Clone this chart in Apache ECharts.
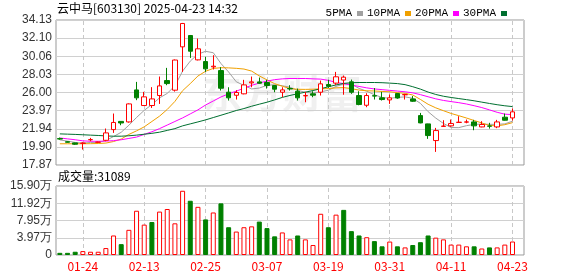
<!DOCTYPE html>
<html><head><meta charset="utf-8">
<script src="https://cdn.jsdelivr.net/npm/echarts/dist/echarts.min.js"></script>
<style>html,body{margin:0;padding:0;background:#fff}#c{width:578px;height:276px}</style>
</head><body><div id="c"></div>
<script>
const dates = ['01-21','01-22','01-23','01-24','01-27','02-05','02-06','02-07','02-10','02-11',
'02-12','02-13','02-14','02-17','02-18','02-19','02-20','02-21','02-24','02-25',
'02-26','02-27','02-28','03-03','03-04','03-05','03-06','03-07','03-10','03-11',
'03-12','03-13','03-14','03-17','03-18','03-19','03-20','03-21','03-24','03-25',
'03-26','03-27','03-28','03-31','04-01','04-02','04-03','04-07','04-08','04-09',
'04-10','04-11','04-14','04-15','04-16','04-17','04-18','04-21','04-22','04-23'];
const opens = [20.83,20.48,20.35,20.30,20.70,20.42,20.64,21.84,22.76,22.70,
26.29,24.54,24.54,25.66,27.34,26.26,31.12,32.39,29.66,29.47,
28.87,28.46,26.03,25.69,25.85,27.08,27.19,27.12,26.78,26.03,
26.45,26.14,25.62,25.85,26.03,26.89,27.05,27.40,27.20,25.66,
24.57,25.64,25.40,25.17,25.88,25.74,25.28,23.41,22.48,20.61,
22.20,22.26,22.64,22.68,22.70,22.14,22.24,22.14,23.23,23.15];
const closes = [20.78,20.42,20.20,20.33,20.72,20.44,21.47,22.64,22.58,24.72,
25.40,25.51,25.28,26.74,27.00,29.64,33.74,30.63,30.90,28.65,
28.95,26.48,25.40,26.00,26.85,27.19,27.04,26.78,26.37,26.29,
26.40,25.40,25.66,25.70,26.97,26.70,27.76,27.72,26.03,24.65,
25.66,25.60,25.21,25.40,25.38,25.77,25.02,22.59,21.17,21.73,
22.24,22.52,22.67,22.70,22.26,22.41,22.22,22.70,22.89,23.83];
const lows = [20.70,20.38,20.12,19.60,20.53,20.38,20.53,21.47,22.33,22.62,
25.14,24.50,24.27,24.72,26.82,26.10,28.31,29.88,29.60,28.31,
28.58,26.22,25.10,25.21,25.80,26.59,26.97,26.44,26.03,25.47,
26.22,25.10,24.91,25.47,25.66,26.52,26.85,25.75,25.85,24.57,
24.35,25.21,25.10,24.72,25.30,25.21,24.95,22.55,20.80,19.34,
22.15,22.15,22.60,22.55,21.77,22.10,21.95,22.00,22.85,22.86];
const highs = [20.95,20.55,20.38,20.42,20.91,20.48,21.96,23.64,22.80,24.78,
27.19,26.07,26.60,27.79,28.76,29.70,33.80,32.45,32.05,30.00,
30.18,28.84,26.59,26.26,27.42,27.79,27.68,27.42,26.82,26.59,
26.82,26.44,26.07,26.14,27.34,27.42,28.31,27.90,27.45,26.14,
25.92,26.50,26.07,25.77,25.95,25.85,25.60,23.71,22.50,22.03,
22.89,22.97,23.34,22.97,22.93,22.78,22.60,22.93,23.64,24.20];
// volume in 万 (10k) units
const volumes = [0.5,0.5,0.75,0.9,0.75,0.75,1.6,4.5,2.5,5.8,
10.2,7.0,7.6,10.0,10.6,7.3,14.8,12.5,11.1,8.2,
9.8,11.9,6.4,5.4,6.4,6.6,7.7,6.2,4.3,5.2,
3.6,4.5,3.6,2.3,9.5,6.4,9.3,10.4,5.5,4.5,
4.1,3.2,2.0,3.1,2.0,1.75,2.3,2.95,4.5,4.0,
3.6,2.4,2.4,2.0,2.0,1.5,1.75,1.75,2.4,3.1089];
const volUp = [0,0,0,1,1,1,1,1,0,1, 1,1,0,1,1,1,1,0,1,0, 1,0,0,1,1,1,0,0,0,1,
1,0,1,1,1,0,1,0,0,0, 1,0,0,1,0,1,0,0,0,1, 1,1,1,1,0,1,0,1,1,1];
const ma5 = [20.68,20.55,20.40,20.32,20.40,20.40,20.62,21.06,21.54,22.33,23.20,24.00,24.65,25.40,25.90,26.75,28.40,29.52,30.30,30.62,30.46,29.25,28.30,27.20,26.80,26.40,26.50,26.80,26.87,26.76,26.59,26.23,26.03,25.94,26.08,26.25,26.68,26.96,26.94,26.46,26.14,25.75,25.44,25.35,25.45,25.51,25.35,24.78,23.85,23.13,22.53,22.07,22.06,22.28,22.42,22.46,22.43,22.43,22.48,22.78];
const ma10 = [20.25,20.25,20.25,20.25,20.26,20.28,20.33,20.50,20.78,21.30,21.70,22.15,22.75,23.35,24.10,25.00,26.20,27.00,27.85,28.38,28.70,28.78,28.76,28.71,28.63,28.40,27.86,27.41,26.99,26.70,26.44,26.36,26.35,26.37,26.41,26.44,26.52,26.55,26.43,26.27,26.19,26.17,26.12,26.08,25.98,25.91,25.72,25.22,24.68,24.28,23.96,23.65,23.40,23.14,22.86,22.59,22.30,22.26,22.39,22.62];
const ma20 = [20.90,20.80,20.70,20.58,20.53,20.53,20.55,20.60,20.70,20.85,21.00,21.30,21.60,21.95,22.35,22.75,23.15,23.60,24.05,24.60,25.05,25.50,25.85,26.15,26.48,26.80,27.06,27.28,27.44,27.53,27.57,27.57,27.57,27.53,27.50,27.36,27.13,27.00,26.83,26.68,26.52,26.40,26.32,26.24,26.16,26.08,25.96,25.76,25.52,25.29,25.11,24.98,24.86,24.71,24.52,24.31,24.05,23.78,23.57,23.52];
const ma30 = [21.36,21.33,21.30,21.26,21.22,21.18,21.13,21.10,21.10,21.15,21.22,21.32,21.42,21.55,21.75,21.95,22.26,22.48,22.70,22.93,23.19,23.45,23.71,23.98,24.20,24.46,24.69,24.91,25.17,25.45,25.67,25.86,26.04,26.22,26.43,26.64,26.85,27.02,27.10,27.12,27.12,27.12,27.10,27.05,27.00,26.88,26.65,26.38,26.05,25.78,25.58,25.44,25.32,25.20,25.07,24.92,24.77,24.63,24.51,24.42];
const priceTicks = ['17.87','19.90','21.94','23.97','26.00','28.03','30.06','32.10','34.13'];
const volTicks = ['0','3.97万','7.95万','11.92万','15.90万'];
const titleText = '云中马[603130] 2025-04-23 14:32';
const volLabel = '成交量:31089';

const pMin = 17.87, pMax = 34.13, pStep = (pMax - pMin) / 8;
const vMax = 15.90, vStep = vMax / 4;
const xData = dates.concat(['']);
const RED = '#ff0000', GREEN = '#008000';
const CJK = '"Noto Sans CJK SC", sans-serif';
const labelIdx = (i) => i % 8 === 3;

const candle = dates.map((d, i) => [opens[i], closes[i], lows[i], highs[i]]);
const volData = volumes.map((v, i) => ({
  value: v,
  itemStyle: volUp[i] ? { color: '#ffffff', borderColor: RED, borderWidth: 1 } : { color: GREEN, borderColor: GREEN, borderWidth: 1 }
}));

const chart = echarts.init(document.getElementById('c'), null, { renderer: 'canvas' });
const maLine = (name, data, color) => ({
  name, type: 'line', data, xAxisIndex: 0, yAxisIndex: 0, symbol: 'none', smooth: false,
  lineStyle: { width: 1, color }, itemStyle: { color }, z: 3, silent: true
});
const xCommon = (gi, tickLen, showLabel) => ({
  type: 'category', gridIndex: gi, data: xData, boundaryGap: true,
  axisLine: { show: false },
  axisTick: { show: true, inside: true, length: tickLen, alignWithLabel: true, interval: labelIdx,
    lineStyle: { color: '#c8c8c8', type: [4, 3], width: 1 } },
  splitLine: { show: false },
  axisLabel: { show: showLabel, interval: labelIdx, color: RED, fontSize: 12, margin: 5, fontFamily: CJK }
});
chart.setOption({
  animation: false,
  backgroundColor: '#ffffff',
  textStyle: { fontFamily: CJK },
  legend: {
    data: ['5PMA', '10PMA', '20PMA', '30PMA'], right: 66, top: 3, align: 'right', icon: 'rect',
    itemWidth: 6, itemHeight: 5, itemGap: 4, selectedMode: false,
    textStyle: { fontSize: 11, color: '#000', fontFamily: '"Liberation Mono", monospace', padding: [0, 0, 0, 0] }
  },
  graphic: [
    { type: 'text', left: 57, top: 2, style: { text: titleText, fontSize: 12, fill: '#000', fontFamily: CJK } },
    { type: 'text', left: 58, top: 170, style: { text: volLabel, fontSize: 12, fill: '#000', fontFamily: CJK } },
    { type: 'text', left: 202, top: 73, z: -10, style: { text: '东方财富', fontSize: 40, fontWeight: 'bold', fill: 'rgba(0,0,0,0.06)', fontFamily: CJK } }
  ],
  grid: [
    { left: 56, right: 54, top: 20, height: 145, show: true, borderColor: '#999', borderWidth: 1, backgroundColor: 'transparent' },
    { left: 56, right: 54, top: 186, height: 69, show: true, borderColor: '#999', borderWidth: 1, backgroundColor: 'transparent' }
  ],
  xAxis: [xCommon(0, 145, false), xCommon(1, 69, true)],
  yAxis: [
    { type: 'value', gridIndex: 0, min: pMin, max: pMax, interval: pStep, scale: true,
      axisLine: { show: false }, axisTick: { show: false },
      splitLine: { show: true, lineStyle: { color: '#d0d0d0', width: 1 } },
      axisLabel: { color: '#333', fontSize: 12, margin: 4, fontFamily: '"Liberation Sans", Arial, sans-serif',
        formatter: (v) => priceTicks[Math.round((v - pMin) / pStep)] } },
    { type: 'value', gridIndex: 1, min: 0, max: vMax, interval: vStep,
      axisLine: { show: false }, axisTick: { show: false },
      splitLine: { show: true, lineStyle: { color: '#d0d0d0', width: 1 } },
      axisLabel: { color: '#333', fontSize: 12, margin: 4, fontFamily: '"Liberation Sans", Arial, sans-serif',
        formatter: (v) => volTicks[Math.round(v / vStep)] } }
  ],
  series: [
    { name: 'K', type: 'candlestick', data: candle, xAxisIndex: 0, yAxisIndex: 0, barWidth: 5, z: 4,
      itemStyle: { color: '#ffffff', color0: GREEN, borderColor: RED, borderColor0: GREEN, borderWidth: 1 } },
    maLine('5PMA', ma5, '#a0a0a0'),
    maLine('10PMA', ma10, '#f0a000'),
    maLine('20PMA', ma20, '#ff00ff'),
    maLine('30PMA', ma30, '#006f30'),
    { name: 'VOL', type: 'bar', data: volData, xAxisIndex: 1, yAxisIndex: 1, barWidth: 5, z: 4 }
  ]
});
</script>
</body></html>
